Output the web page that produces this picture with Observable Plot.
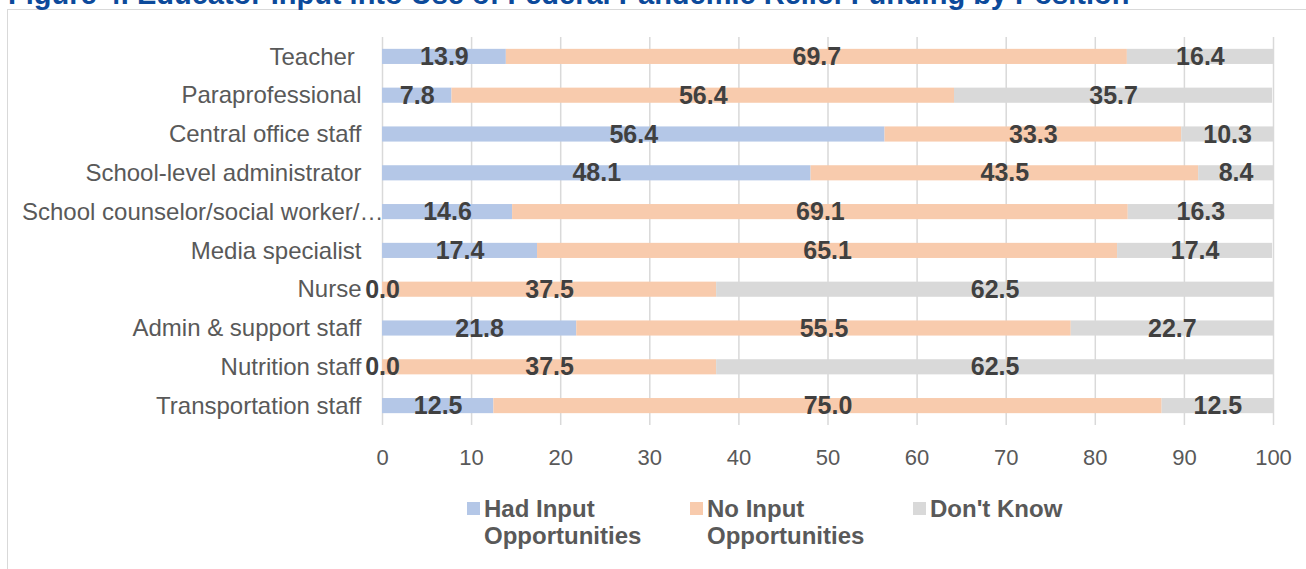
<!DOCTYPE html>
<html>
<head>
<meta charset="utf-8">
<script src="https://cdn.jsdelivr.net/npm/d3@7"></script>
<script src="https://cdn.jsdelivr.net/npm/@observablehq/plot@0.6"></script>
<style>
  html, body { margin: 0; padding: 0; background: #fff; }
  #wrap { position: relative; width: 1306px; height: 569px; overflow: hidden; font-family: "Liberation Sans", Arial, sans-serif; }
  #title { position: absolute; left: 8px; top: -20px; font-size: 29px; line-height: 29px; font-weight: bold; color: #0c4a9b; white-space: nowrap; }
  #frame { position: absolute; left: 7px; top: 9px; width: 1400px; height: 700px; border: 1.5px solid #d9d9d9; }
  #chart { position: absolute; left: 0; top: 0; }
  #legend { position: absolute; left: 467px; top: 495px; display: flex; }
  .item { width: 223px; display: flex; align-items: flex-start; }
  .sw { width: 13px; height: 13px; margin-top: 7px; margin-right: 4px; flex: none; }
  .lab { font-size: 24px; line-height: 27px; font-weight: bold; color: #595959; max-width: 185px; }
</style>
</head>
<body>
<div id="wrap">
  <div id="frame"></div>
  <div id="title">Figure 4. Educator Input into Use of Federal Pandemic Relief Funding by Position</div>
  <div id="chart"></div>
  <div id="legend"></div>
</div>
<script>
const categories = [
  "Teacher\u00a0",
  "Paraprofessional",
  "Central office staff",
  "School-level administrator",
  "School counselor/social worker/…",
  "Media specialist",
  "Nurse",
  "Admin & support staff",
  "Nutrition staff",
  "Transportation staff"
];
const series = ["Had Input Opportunities", "No Input Opportunities", "Don't Know"];
const hadInput   = [13.9, 7.8, 56.4, 48.1, 14.6, 17.4, 0.0, 21.8, 0.0, 12.5];
const noInput    = [69.7, 56.4, 33.3, 43.5, 69.1, 65.1, 37.5, 55.5, 37.5, 75.0];
const dontKnow   = [16.4, 35.7, 10.3, 8.4, 16.3, 17.4, 62.5, 22.7, 62.5, 12.5];
const colors = ["#b4c7e7", "#f8cbad", "#d9d9d9"];
const xTicks = [0, 10, 20, 30, 40, 50, 60, 70, 80, 90, 100];

const valuesBySeries = [hadInput, noInput, dontKnow];
const data = [];
categories.forEach((c, i) => {
  series.forEach((s, j) => data.push({category: c, series: s, value: valuesBySeries[j][i]}));
});

const overflowLabel = "School counselor/social worker/…";
const normalLabels = categories.filter(c => c !== overflowLabel);

const chart = Plot.plot({
  width: 1306,
  height: 480,
  marginLeft: 382,
  marginRight: 33,
  marginTop: 37,
  marginBottom: 55,
  style: {fontFamily: '"Liberation Sans", Arial, sans-serif', background: "transparent"},
  x: {domain: [0, 100], ticks: xTicks},
  y: {domain: categories, paddingInner: 0.61, paddingOuter: 0.305, round: false},
  color: {domain: series, range: colors},
  marks: [
    Plot.ruleX(xTicks, {stroke: "#d9d9d9", strokeWidth: 1.5}),
    Plot.barX(data, Plot.stackX({x: "value", y: "category", fill: "series", order: series})),
    Plot.text(data, Plot.stackX({
      x: "value", y: "category", z: "series", order: series,
      text: d => d.value.toFixed(1),
      fontSize: 25, fontWeight: "bold", fill: "#404040"
    })),
    Plot.axisX({ticks: xTicks, tickSize: 0, tickPadding: 24, fontSize: 22, color: "#595959", label: null}),
    Plot.axisY({ticks: normalLabels, tickSize: 0, tickPadding: 21, fontSize: 24, color: "#595959", label: null}),
    Plot.axisY({ticks: [overflowLabel], tickSize: 0, tickPadding: -1, fontSize: 24, color: "#595959", label: null})
  ]
});
document.getElementById("chart").appendChild(chart);

const legend = document.getElementById("legend");
series.forEach((s, j) => {
  const item = document.createElement("div");
  item.className = "item";
  const sw = document.createElement("div");
  sw.className = "sw";
  sw.style.background = colors[j];
  const lab = document.createElement("div");
  lab.className = "lab";
  lab.textContent = s;
  item.appendChild(sw);
  item.appendChild(lab);
  legend.appendChild(item);
});
</script>
</body>
</html>
